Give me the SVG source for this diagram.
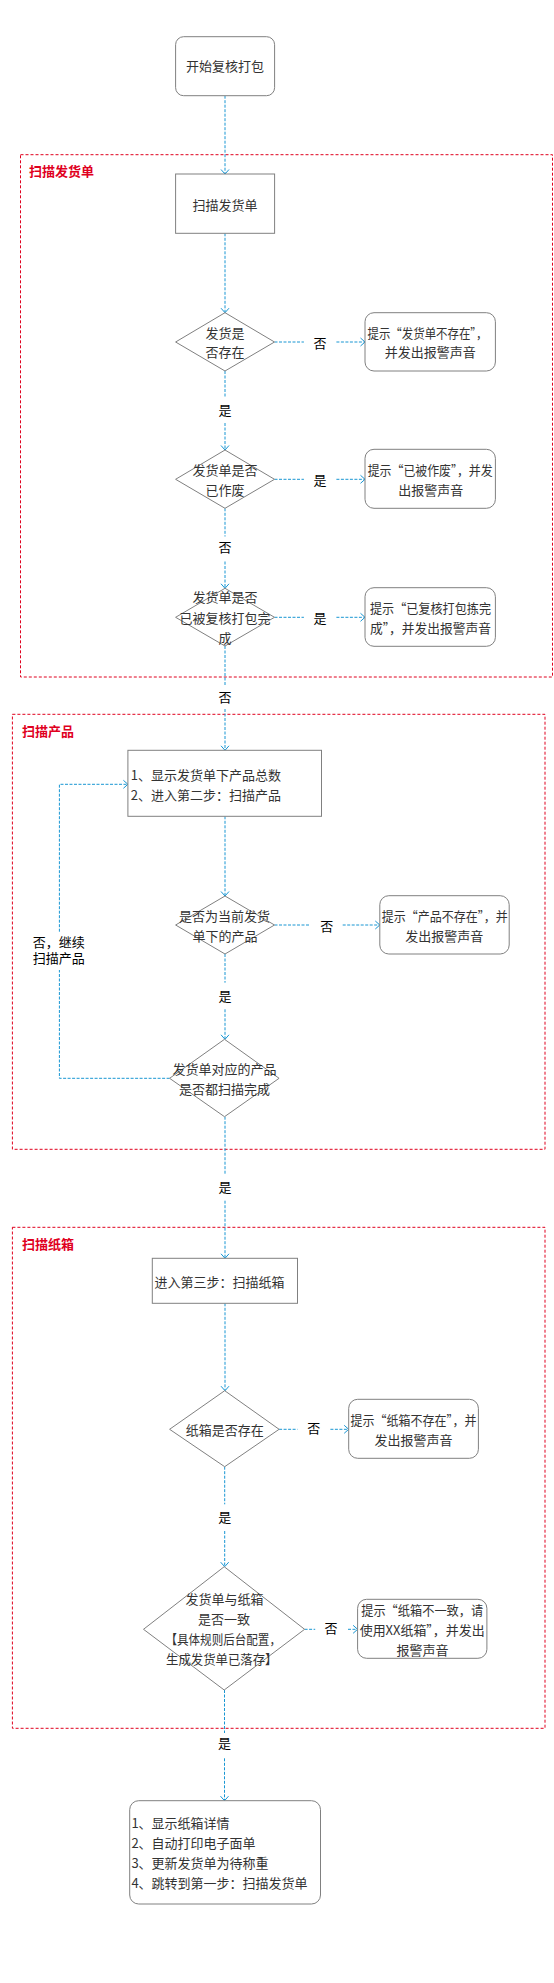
<svg xmlns="http://www.w3.org/2000/svg" width="554" height="1983" viewBox="0 0 554 1983">
<style>
text{font-family:"Noto Sans CJK SC","Microsoft YaHei",sans-serif;font-size:13px;dominant-baseline:central}
.n{fill:#fff;stroke:#808080;stroke-width:1}
.t{fill:#333;text-anchor:middle}
.tl{fill:#333;text-anchor:start}
.lb{fill:#000;text-anchor:middle}
.grp{fill:none;stroke:#e0001e;stroke-width:1;stroke-dasharray:3 2}
.gt{fill:#e0001e;font-weight:bold;text-anchor:start}
.c{fill:none;stroke:#1896d3;stroke-width:1;stroke-dasharray:3 1.5}
.ca{marker-end:url(#arr)}
</style>
<defs>
<marker id="arr" viewBox="-6 -5 7 10" refX="0" refY="0" markerWidth="7" markerHeight="10" markerUnits="userSpaceOnUse" orient="auto">
<path d="M-4.5,-4 L0,0 L-4.5,4" fill="none" stroke="#1896d3" stroke-width="1"/>
</marker>
</defs>
<rect width="554" height="1983" fill="#fff"/>

<g id="group1">
<rect class="grp" x="20.5" y="154.7" width="532" height="522.3"/>
<text class="gt" x="29" y="170">扫描发货单</text>
</g>
<g id="group2">
<rect class="grp" x="12.4" y="714.3" width="532.6" height="435"/>
<text class="gt" x="22" y="730">扫描产品</text>
</g>
<g id="group3">
<rect class="grp" x="12.4" y="1227.3" width="532.6" height="501"/>
<text class="gt" x="22" y="1243.3">扫描纸箱</text>
</g>

<g id="connectors">
<path class="c ca" d="M225,95.7 V174"/>
<path class="c ca" d="M225,233.3 V312.7"/>
<path class="c ca" d="M274.5,342 H303.9 M336.4,342 H365"/>
<text class="lb" x="320" y="342">否</text>
<path class="c ca" d="M225,371 V398 M225,423 V450"/>
<text class="lb" x="225" y="409.3">是</text>
<path class="c ca" d="M274.5,479.3 H303.9 M336.4,479.3 H365"/>
<text class="lb" x="320" y="479.3">是</text>
<path class="c ca" d="M225,508.3 V536.5 M225,561.5 V588.3"/>
<text class="lb" x="225" y="546.7">否</text>
<path class="c ca" d="M274.5,617.3 H303.9 M336.4,617.3 H365"/>
<text class="lb" x="320" y="617.3">是</text>
<path class="c ca" d="M225,646 V685 M225,709 V750.3"/>
<text class="lb" x="225" y="696">否</text>
<path class="c ca" d="M225,816.3 V896"/>
<path class="c ca" d="M274.5,925 H310.2 M342.7,925 H379.8"/>
<text class="lb" x="326.8" y="925">否</text>
<path class="c ca" d="M225,954 V982.7 M225,1009.3 V1039.3"/>
<text class="lb" x="225" y="995">是</text>
<path class="c ca" d="M169.6,1078.3 H59.4 V970 M59.4,931.7 V784.3 H127.9"/>
<text class="lb" x="58.8" y="941.7">否，继续</text>
<text class="lb" x="58.8" y="957.3">扫描产品</text>
<path class="c ca" d="M225,1116.7 V1175 M225,1200.7 V1258.3"/>
<text class="lb" x="225" y="1186">是</text>
<path class="c ca" d="M225,1303.3 V1390.7"/>
<path class="c ca" d="M279.1,1429.3 H297.5 M330.4,1429.3 H348.7"/>
<text class="lb" x="313.8" y="1427">否</text>
<path class="c ca" d="M224.7,1466.7 V1504.3 M224.7,1531 V1566.7"/>
<text class="lb" x="224.7" y="1516">是</text>
<path class="c ca" d="M304.6,1629.3 H315.2 M348,1629.3 H357.6"/>
<text class="lb" x="331" y="1627">否</text>
<path class="c ca" d="M224.5,1690 V1733 M224.5,1758.3 V1800.7"/>
<text class="lb" x="224.5" y="1742.7">是</text>
</g>

<g id="start">
<rect class="n" x="175.6" y="36.7" width="99" height="59" rx="8"/>
<text class="t" x="225" y="65">开始复核打包</text>
</g>
<g id="scanOrder">
<rect class="n" x="175.6" y="174" width="99" height="59.3"/>
<text class="t" x="225" y="204">扫描发货单</text>
</g>
<g id="d1">
<polygon class="n" points="225,312.7 274.5,342 225,371 175.6,342"/>
<text class="t" x="225" y="332.3">发货是</text>
<text class="t" x="225" y="351.7">否存在</text>
</g>
<g id="r1">
<rect class="n" x="365" y="312.7" width="130.4" height="58.3" rx="9"/>
<text class="t" x="427.5" y="332.3" textLength="120" lengthAdjust="spacingAndGlyphs">提示“发货单不存在”，</text>
<text class="t" x="430.2" y="351.7">并发出报警声音</text>
</g>
<g id="d2">
<polygon class="n" points="225,450 274.5,479.3 225,508.3 175.6,479.3"/>
<text class="t" x="225" y="469.3">发货单是否</text>
<text class="t" x="225" y="489.3">已作废</text>
</g>
<g id="r2">
<rect class="n" x="365" y="449.3" width="130.4" height="59" rx="9"/>
<text class="t" x="430.2" y="469.3" textLength="125" lengthAdjust="spacingAndGlyphs">提示“已被作废”，并发</text>
<text class="t" x="430.7" y="489.3">出报警声音</text>
</g>
<g id="d3">
<polygon class="n" points="225,588.3 274.5,617.3 225,646 175.6,617.3"/>
<text class="t" x="225" y="596.7">发货单是否</text>
<text class="t" x="225" y="617.3">已被复核打包完</text>
<text class="t" x="225" y="637.3">成</text>
</g>
<g id="r3">
<rect class="n" x="365" y="587.7" width="130.4" height="58.6" rx="9"/>
<text class="t" x="430.5" y="607.3" textLength="121" lengthAdjust="spacingAndGlyphs">提示“已复核打包拣完</text>
<text class="t" x="430.5" y="627.3" textLength="121" lengthAdjust="spacingAndGlyphs">成”，并发出报警声音</text>
</g>
<g id="showProducts">
<rect class="n" x="127.9" y="750.3" width="193.6" height="66"/>
<text class="tl" x="130.7" y="774">1、显示发货单下产品总数</text>
<text class="tl" x="130.7" y="794">2、进入第二步：扫描产品</text>
</g>
<g id="d4">
<polygon class="n" points="225,896 274.5,925 225,954 175.6,925"/>
<text class="t" x="224.5" y="915">是否为当前发货</text>
<text class="t" x="225" y="935">单下的产品</text>
</g>
<g id="r4">
<rect class="n" x="379.8" y="895.7" width="129.4" height="58.3" rx="9"/>
<text class="t" x="444.7" y="915" textLength="126" lengthAdjust="spacingAndGlyphs">提示“产品不存在”，并</text>
<text class="t" x="444.3" y="935">发出报警声音</text>
</g>
<g id="d5">
<polygon class="n" points="224.5,1039.3 279.1,1078.3 224.5,1116.7 169.6,1078.3"/>
<text class="t" x="224.4" y="1068.3">发货单对应的产品</text>
<text class="t" x="224.4" y="1088.3">是否都扫描完成</text>
</g>
<g id="scanCarton">
<rect class="n" x="152.3" y="1258.3" width="145.2" height="45"/>
<text class="tl" x="154.4" y="1281">进入第三步：扫描纸箱</text>
</g>
<g id="d6">
<polygon class="n" points="224.7,1390.7 279.1,1429.3 224.7,1466.7 169.6,1429.3"/>
<text class="t" x="224.7" y="1429.3">纸箱是否存在</text>
</g>
<g id="r6">
<rect class="n" x="348.7" y="1399.3" width="129.7" height="59" rx="9"/>
<text class="t" x="413.4" y="1419.3" textLength="126" lengthAdjust="spacingAndGlyphs">提示“纸箱不存在”，并</text>
<text class="t" x="413.4" y="1439.3">发出报警声音</text>
</g>
<g id="d7">
<polygon class="n" points="224.2,1566.7 304.6,1629.3 224.2,1690 143.5,1629.3"/>
<text class="t" x="224.4" y="1598.3">发货单与纸箱</text>
<text class="t" x="224" y="1618.3">是否一致</text>
<text class="t" x="223.2" y="1638.3" textLength="115.5" lengthAdjust="spacingAndGlyphs">【具体规则后台配置，</text>
<text class="t" x="221.7" y="1658.3" textLength="111.4" lengthAdjust="spacingAndGlyphs">生成发货单已落存】</text>
</g>
<g id="r7">
<rect class="n" x="357.6" y="1599.3" width="129.3" height="59" rx="9"/>
<text class="t" x="422.2" y="1609.3" textLength="122" lengthAdjust="spacingAndGlyphs">提示“纸箱不一致，请</text>
<text class="t" x="422.2" y="1629.3" textLength="125" lengthAdjust="spacingAndGlyphs">使用XX纸箱”，并发出</text>
<text class="t" x="422.4" y="1649.3">报警声音</text>
</g>
<g id="finish">
<rect class="n" x="129.7" y="1800.7" width="190.8" height="103.3" rx="9"/>
<text class="tl" x="131.4" y="1822.3">1、显示纸箱详情</text>
<text class="tl" x="131.4" y="1842.3">2、自动打印电子面单</text>
<text class="tl" x="131.4" y="1862.3">3、更新发货单为待称重</text>
<text class="tl" x="131.4" y="1882.3">4、跳转到第一步：扫描发货单</text>
</g>
</svg>
